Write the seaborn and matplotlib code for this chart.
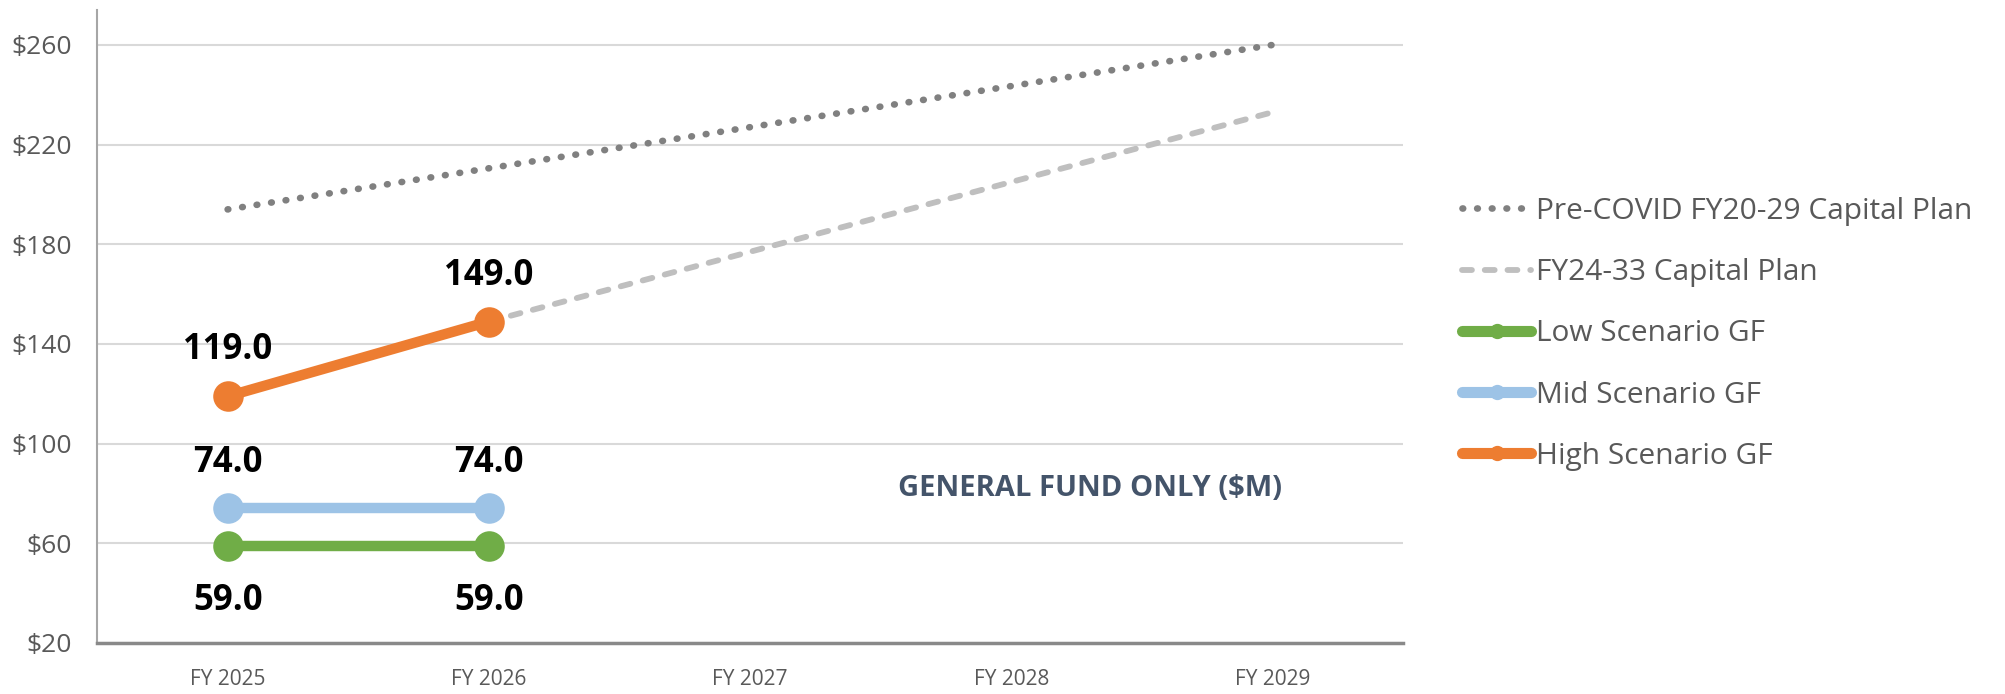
import numpy as np
import pandas as pd
import seaborn as sns
from matplotlib import pyplot as plt
from matplotlib.lines import Line2D

years = ['FY 2025', 'FY 2026', 'FY 2027', 'FY 2028', 'FY 2029']
pre_covid = [194, 210.5, 227, 243.5, 260]
fy24_years = ['FY 2026', 'FY 2027', 'FY 2028', 'FY 2029']
fy24_plan = [149, 177, 205, 233]
gf_years = ['FY 2025', 'FY 2026']
low_gf = [59.0, 59.0]
mid_gf = [74.0, 74.0]
high_gf = [119.0, 149.0]
yticks = [20, 60, 100, 140, 180, 220, 260]

sns.set_style("white")
plt.rcParams['font.family'] = ['Open Sans', 'DejaVu Sans']

fig = plt.figure(figsize=(20.05, 6.94), dpi=100)
ax = fig.add_axes([0.0484, 0.0735, 0.6514, 0.912])

dot_style = dict(color='#808080', lw=4.8, linestyle=(0, (0.1, 2.1)))
dash_style = dict(color='#BFBFBF', lw=4.2, linestyle=(0, (1.7, 2.2)))

sns.lineplot(x=years, y=pre_covid, ax=ax, zorder=2, **dot_style)
ax.lines[-1].set_dash_capstyle('round')
sns.lineplot(x=fy24_years, y=fy24_plan, ax=ax, zorder=2, **dash_style)
ax.lines[-1].set_dash_capstyle('round')

scen = [(low_gf, '#70AD47', 'Low Scenario GF'),
        (mid_gf, '#9DC3E6', 'Mid Scenario GF'),
        (high_gf, '#ED7D31', 'High Scenario GF')]
for vals, col, name in scen:
    sns.lineplot(x=gf_years, y=vals, ax=ax, color=col, lw=7.5, marker='o',
                 markersize=22, markeredgewidth=0, zorder=3)

# data labels
lab = dict(ha='center', va='center', fontsize=25, fontweight='bold', color='black',
           textcoords='offset points')
for i, v in enumerate(high_gf):
    ax.annotate(f'{v:.1f}', (i, v), xytext=(0, 33), **lab)
for i, v in enumerate(mid_gf):
    ax.annotate(f'{v:.1f}', (i, v), xytext=(0, 33), **lab)
for i, v in enumerate(low_gf):
    ax.annotate(f'{v:.1f}', (i, v), xytext=(0, -40), **lab)

ax.text(3.3, 82, 'GENERAL FUND ONLY ($M)', ha='center', va='center',
        fontsize=21, fontweight='bold', color='#44546A')

ax.set_xlim(-0.5, 4.5)
ax.set_ylim(20, 274)
ax.set_yticks(yticks)
ax.set_yticklabels([f'${t}' for t in yticks])
ax.grid(axis='y', color='#D9D9D9', lw=1.5)
ax.set_axisbelow(True)
ax.tick_params(axis='both', colors='#595959', length=0)
ax.tick_params(axis='x', labelsize=15, pad=19)
ax.tick_params(axis='y', labelsize=19, pad=18)
for s in ['top', 'right']:
    ax.spines[s].set_visible(False)
ax.spines['left'].set_color('#A6A6A6')
ax.spines['left'].set_linewidth(1.5)
ax.spines['bottom'].set_color('#898989')
ax.spines['bottom'].set_linewidth(2.5)

handles = [Line2D([], [], dash_capstyle='round', **dot_style),
           Line2D([], [], dash_capstyle='round', **dash_style)]
for vals, col, name in scen:
    handles.append(Line2D([], [], color=col, lw=8, marker='o', markersize=11,
                          markeredgewidth=0, solid_capstyle='round'))
labels = ['Pre-COVID FY20-29 Capital Plan', 'FY24-33 Capital Plan'] + [s[2] for s in scen]
ax.legend(handles, labels, loc='upper left', bbox_to_anchor=(0.716, 0.755),
          bbox_transform=fig.transFigure, frameon=False, fontsize=21.5,
          labelcolor='#595959', handlelength=2.3, handletextpad=0.15,
          labelspacing=1.08)

fig.savefig('out.png', dpi=100)
